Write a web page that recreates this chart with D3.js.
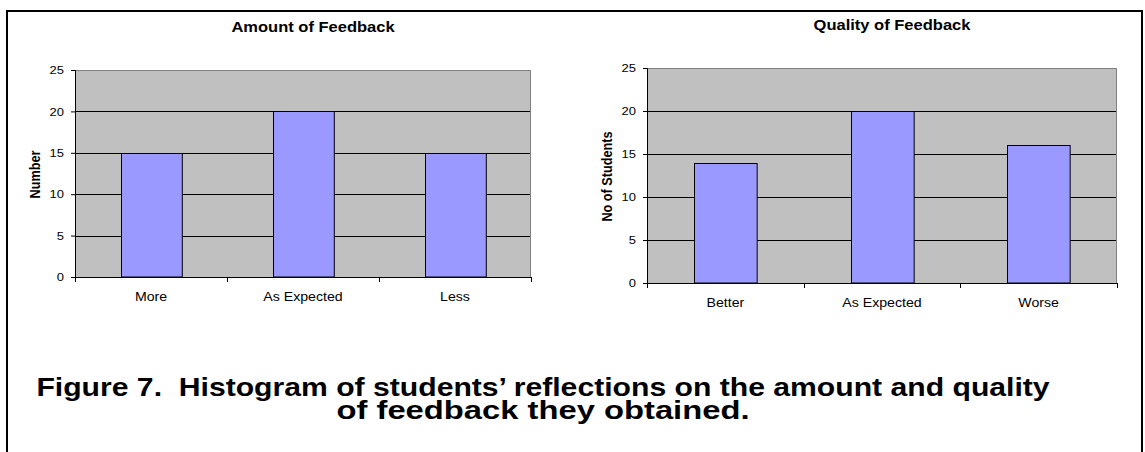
<!DOCTYPE html>
<html>
<head>
<meta charset="utf-8">
<script src="https://cdn.jsdelivr.net/npm/d3@7"></script>
<style>
  html, body { margin: 0; padding: 0; background: #fff; }
  svg { display: block; }
  text { font-family: "Liberation Sans", Arial, sans-serif; fill: #000; white-space: pre; }
</style>
</head>
<body>
<svg id="fig" width="1145" height="452"></svg>
<script>
// Survey counts
const amountCategories = ["More", "As Expected", "Less"];
const amountValues = [15, 20, 15];
const qualityCategories = ["Better", "As Expected", "Worse"];
const qualityValues = [14, 20, 16];
const yTickValues = [0, 5, 10, 15, 20, 25];
const yMax = 25;

const amountTitle = "Amount of Feedback";
const amountYLabel = "Number";
const qualityTitle = "Quality of Feedback";
const qualityYLabel = "No of Students";
const captionLines = [
  "Figure 7.  Histogram of students\u2019 reflections on the amount and quality",
  "of feedback they obtained."
];

const FONT = "'Liberation Sans', Arial, sans-serif";
// text is drawn slightly wide
const SX = 1.18;
const captionStretch = [1.16, 1.26];

const svg = d3.select("#fig");

// frame around the figure
svg.append("rect")
  .attr("x", 7).attr("y", 11)
  .attr("width", 1135).attr("height", 470)
  .attr("fill", "none").attr("stroke", "#000").attr("stroke-width", 2);

function wideText(sel, x, y, sx) {
  return sel.attr("x", 0).attr("y", 0)
    .attr("font-family", FONT)
    .attr("transform", `translate(${x},${y}) scale(${sx || SX},1)`);
}

function drawChart(opts) {
  const { left, top, width, height, categories, values, title, yLabel } = opts;
  const g = svg.append("g").attr("transform", `translate(${left},${top})`);

  const x = d3.scaleBand().domain(categories).range([0, width])
    .paddingInner(0.6).paddingOuter(0.3);
  const y = d3.scaleLinear().domain([0, yMax]).range([height, 0]);
  const step = x.step();

  // plot background
  g.append("rect").attr("x", 0).attr("y", 0)
    .attr("width", width).attr("height", height)
    .attr("fill", "#C0C0C0");

  // horizontal gridlines
  g.append("g").selectAll("line")
    .data(yTickValues.filter(v => v > 0 && v < yMax))
    .join("line")
    .attr("x1", 0).attr("x2", width)
    .attr("y1", d => Math.round(y(d)) + 0.5).attr("y2", d => Math.round(y(d)) + 0.5)
    .attr("stroke", "#000").attr("stroke-width", 1);

  // plot border (top and right)
  g.append("path")
    .attr("d", `M0,0.5H${width - 0.5}V${height}`)
    .attr("fill", "none").attr("stroke", "#808080").attr("stroke-width", 1);

  // bars
  g.append("g").selectAll("rect")
    .data(categories.map((c, i) => ({ c, v: values[i] })))
    .join("rect")
    .attr("x", d => Math.round(x(d.c)) + 0.5)
    .attr("y", d => Math.round(y(d.v)) + 0.5)
    .attr("width", x.bandwidth())
    .attr("height", d => y(0) - Math.round(y(d.v)) - 0.5)
    .attr("fill", "#9999FF").attr("stroke", "#000").attr("stroke-width", 1);

  // y axis
  const yAxis = g.append("g")
    .call(d3.axisLeft(y).tickValues(yTickValues).tickSize(4).tickPadding(7).tickFormat(d3.format("d")));
  yAxis.select(".domain").attr("stroke", "#000");
  yAxis.selectAll(".tick line").attr("stroke", "#000");
  yAxis.selectAll(".tick text")
    .attr("font-size", 11)
    .attr("fill", "#000")
    .each(function () {
      d3.select(this).attr("dy", "0.34em");
      wideText(d3.select(this), -11, 0);
    });

  // x axis: boundary ticks with centred category labels
  const xAxis = g.append("g").attr("transform", `translate(0,${height})`);
  xAxis.append("line").attr("x1", 0).attr("x2", width).attr("y1", 0.5).attr("y2", 0.5)
    .attr("stroke", "#000");
  xAxis.selectAll("line.tick")
    .data(d3.range(categories.length + 1))
    .join("line").attr("class", "tick")
    .attr("x1", i => Math.round(i * step) + 0.5).attr("x2", i => Math.round(i * step) + 0.5)
    .attr("y1", 0).attr("y2", 5)
    .attr("stroke", "#000");
  xAxis.selectAll("text")
    .data(categories)
    .join("text")
    .attr("text-anchor", "middle")
    .attr("font-size", 12)
    .each(function (d) {
      wideText(d3.select(this), x(d) + x.bandwidth() / 2, 24);
    })
    .text(d => d);

  // chart title
  wideText(g.append("text"), width / 2 + 10, -38)
    .attr("text-anchor", "middle")
    .attr("font-size", 14).attr("font-weight", "bold")
    .text(title);

  // y axis title
  svg.append("text")
    .attr("text-anchor", "middle")
    .attr("font-family", FONT)
    .attr("font-size", 12.7).attr("font-weight", "bold")
    .attr("transform", `translate(${left - 35},${top + height / 2 + 1}) scale(${SX},1) rotate(-90)`)
    .text(yLabel);
}

drawChart({
  left: 75, top: 70, width: 456, height: 207,
  categories: amountCategories, values: amountValues,
  title: amountTitle, yLabel: amountYLabel
});

drawChart({
  left: 647, top: 68, width: 470, height: 215,
  categories: qualityCategories, values: qualityValues,
  title: qualityTitle, yLabel: qualityYLabel
});

// caption
const caption = svg.append("g");
captionLines.forEach((line, i) => {
  wideText(caption.append("text"), 543, 396 + i * 23, captionStretch[i])
    .attr("text-anchor", "middle")
    .attr("xml:space", "preserve")
    .attr("font-size", 26).attr("font-weight", "bold")
    .text(line);
});
</script>
</body>
</html>
